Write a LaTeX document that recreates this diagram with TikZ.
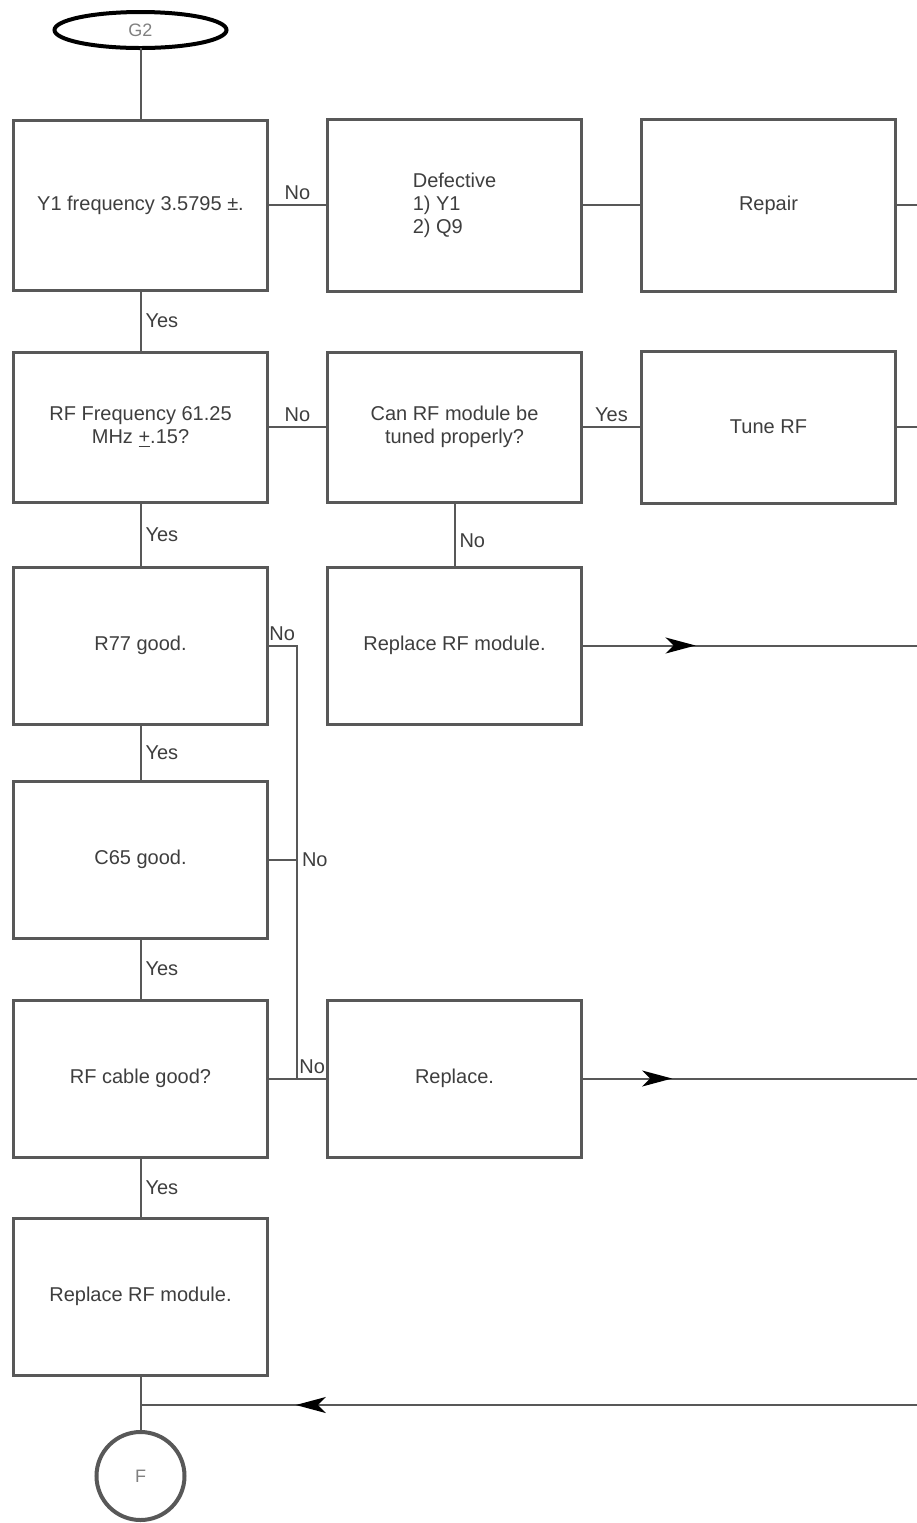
\documentclass[tikz,border=0pt]{standalone}
\usepackage{fontspec}
\setmainfont{Liberation Sans}
\usetikzlibrary{arrows.meta, positioning, shapes.geometric, decorations.markings}
\definecolor{inkgray}{RGB}{88,88,88}
\definecolor{textgray}{RGB}{62,62,62}

\begin{document}
\begin{tikzpicture}[x=0.5pt, y=-0.5pt, node distance=30pt,
    testbox/.style={draw=inkgray, line width=1.5pt, outer sep=0pt, minimum width=127pt, minimum height=78.5pt, align=center, font=\fontsize{10}{11.5}\selectfont, text=textgray},
    flow/.style={draw=inkgray, line width=1pt},
    lbl/.style={font=\fontsize{10}{11}\selectfont, text=textgray, inner sep=2pt},
    midarrow/.style={postaction={decorate}, decoration={markings, mark=at position #1 with {\arrow[black]{Stealth[length=15pt, width=8pt, inset=4pt]}}}}]
    \useasboundingbox (0,0) rectangle (917,1523);
    \coordinate (rim) at (917,0);
    \coordinate (bus) at (297,0);
    \coordinate (ret) at (917,1405);

    % left column
    \node[testbox, minimum height=85pt] (yfreq) at (140.5,205) {Y1 frequency 3.5795 ±.};
    \node[draw=black, line width=2pt, outer sep=0pt, ellipse, minimum width=86pt, minimum height=18pt, inner sep=0pt, font=\fontsize{9}{10}\selectfont, text=gray, above=36pt of yfreq] (g2) {G2};
    \node[testbox, minimum height=75pt, below=31pt of yfreq] (rffreq) {RF Frequency 61.25\\MHz \underline{+}.15?};
    \node[testbox, below=32.5pt of rffreq] (r77) {R77 good.};
    \node[testbox, below=28.5pt of r77] (c65) {C65 good.};
    \node[testbox, below=31pt of c65] (cable) {RF cable good?};
    \node[testbox, below=30.5pt of cable] (replmod) {Replace RF module.};
    \node[draw=inkgray, line width=2pt, outer sep=0pt, circle, minimum size=44pt, inner sep=0pt, font=\fontsize{9}{10}\selectfont, text=gray, below=28.5pt of replmod] (fend) {F};

    % right columns
    \node[testbox, minimum height=86pt, right=30pt of yfreq, align=left] (defect) {Defective\\1) Y1\\2) Q9};
    \node[testbox, minimum height=86pt, right=30pt of defect] (repair) {Repair};
    \node[testbox, minimum height=75pt, right=30pt of rffreq] (cantune) {Can RF module be\\tuned properly?};
    \node[testbox, minimum height=76pt, right=30pt of cantune] (tune) {Tune RF};
    \node[testbox, below=32.5pt of cantune] (replrf) {Replace RF module.};
    \node[testbox, right=30pt of cable] (repl) {Replace.};

    \draw[flow] (g2) -- (yfreq);
    \draw[flow] (yfreq) -- node[lbl, above] {No} (defect);
    \draw[flow] (defect) -- (repair);
    \draw[flow] (repair) -- (repair.east -| rim);
    \draw[flow] (yfreq) -- node[lbl, right] {Yes} (rffreq);
    \draw[flow] (rffreq) -- node[lbl, above] {No} (cantune);
    \draw[flow] (cantune) -- node[lbl, above] {Yes} (tune);
    \draw[flow] (tune) -- (tune.east -| rim);
    \draw[flow] (cantune) -- node[lbl, right, pos=0.6] {No} (replrf);
    \draw[flow, midarrow=0.34] (replrf) -- (replrf.east -| rim);
    \draw[flow] (rffreq) -- node[lbl, right] {Yes} (r77);
    \draw[flow] (r77.east) -- node[lbl, above] {No} (r77.east -| bus) -- (cable.east -| bus);
    \draw[flow] (r77) -- node[lbl, right] {Yes} (c65);
    \draw[flow] (c65.east) -- (c65.east -| bus) node[lbl, right] {No};
    \draw[flow] (c65) -- node[lbl, right] {Yes} (cable);
    \draw[flow] (cable.east) -- (cable.east -| bus) -- node[lbl, above] {No} (repl.west);
    \draw[flow, midarrow=0.27] (repl) -- (repl.east -| rim);
    \draw[flow] (cable) -- node[lbl, right] {Yes} (replmod);
    \draw[flow] (replmod) -- (fend);
    \draw[flow, midarrow=0.8] (ret) -- (ret -| replmod);
\end{tikzpicture}
\end{document}
